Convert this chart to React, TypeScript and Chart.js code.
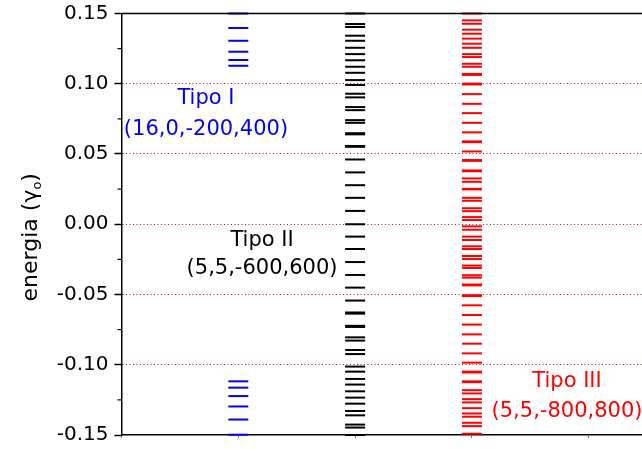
import React, { useEffect, useRef } from 'react';
import { Chart, registerables } from 'chart.js';

Chart.register(...registerables);

const FONT = "'DejaVu Sans', 'Liberation Sans', sans-serif";

// Axis ranges and ticks
const Y_MIN = -0.15;
const Y_MAX = 0.15;
const X_MIN = 0;
const X_MAX = 4.456;
const yMajorTicks = [-0.15, -0.1, -0.05, 0, 0.05, 0.1, 0.15];
const yMinorTicks = [-0.125, -0.075, -0.025, 0.025, 0.075, 0.125];
const yGridValues = [-0.1, -0.05, 0, 0.05, 0.1];
const xTicks = [0, 1, 2, 3, 4];

// Column positions of the three spectra
const columns = [1, 2, 3];
const seriesColors = ['#0000ff', '#000000', '#ff0000'];

// Energy levels (in units of gamma_0)
const tipoI = [
  0.15, 0.1397, 0.1306, 0.1228, 0.1169, 0.1128,
  -0.1118, -0.1163, -0.1223, -0.1297, -0.139, -0.1498,
];

const tipoII = [
  0.15, 0.1425, 0.1404, 0.1342, 0.1306, 0.1256, 0.1211, 0.1167, 0.1121, 0.1078,
  0.1026, 0.0991, 0.0929, 0.0903, 0.0834, 0.0812, 0.0741, 0.0722, 0.0648, 0.064,
  0.0557, 0.0551, 0.0461, 0.0369, 0.0278, 0.0188, 0.0095, 0.0,
  -0.0088, -0.0176, -0.0269, -0.0361, -0.0451, -0.0543, -0.0628, -0.0636, -0.0723,
  -0.0731, -0.0805, -0.0828, -0.0895, -0.0924, -0.1013, -0.1049, -0.1101, -0.1141,
  -0.1189, -0.1234, -0.1277, -0.1329, -0.136, -0.1426, -0.1447, -0.15,
];

const tipoIII = [
  0.15, 0.1451, 0.1427, 0.1385, 0.1356, 0.1321, 0.1285, 0.1256, 0.1211, 0.119,
  0.1142, 0.1121, 0.107, 0.1063, 0.1001, 0.0995, 0.0926, 0.0857, 0.0791, 0.0722,
  0.0654, 0.059, 0.0584, 0.0518, 0.0457, 0.0451, 0.0383, 0.0377, 0.0326, 0.0302,
  0.0252, 0.0248, 0.0188, 0.0167, 0.0114, 0.0093, 0.0051, 0.003,
  -0.0015, -0.0039, -0.0088, -0.0112, -0.0157, -0.0176, -0.0226, -0.0247, -0.0294,
  -0.0311, -0.0363, -0.038, -0.0429, -0.0435, -0.0505, -0.0511, -0.0577, -0.0646,
  -0.0714, -0.0784, -0.085, -0.0919, -0.0985, -0.1049, -0.1055, -0.1118, -0.1124,
  -0.1181, -0.1204, -0.1245, -0.1268, -0.1309, -0.1347, -0.137, -0.1413, -0.1437,
  -0.1491,
];

const seriesLevels = [tipoI, tipoII, tipoIII];
const seriesNames = ['Tipo I', 'Tipo II', 'Tipo III'];

// Text labels placed in data coordinates
const labelTexts = ['Tipo I', '(16,0,-200,400)', 'Tipo II', '(5,5,-600,600)', 'Tipo III', '(5,5,-800,800)'];
const labelX = [0.723, 0.723, 1.203, 1.203, 3.814, 3.814];
const labelY = [0.0898, 0.0677, -0.0114, -0.0313, -0.1118, -0.1332];
const labelColors = ['#0000ff', '#0000ff', '#000000', '#000000', '#ff0000', '#ff0000'];

const yTitleMain = 'energia (\u03B3';
const yTitleSub = 'o';
const yTitleEnd = ')';

const decorPlugin = {
  id: 'decor',
  afterDraw(chart: any) {
    const { ctx, chartArea, scales } = chart;
    const ys = scales.y;
    const xs = scales.x;
    ctx.save();
    // top frame line
    ctx.strokeStyle = '#000';
    ctx.lineWidth = 1.5;
    ctx.beginPath();
    ctx.moveTo(chartArea.left, chartArea.top);
    ctx.lineTo(chartArea.right, chartArea.top);
    ctx.stroke();
    // minor y ticks
    ctx.lineWidth = 1.2;
    yMinorTicks.forEach((v) => {
      const py = ys.getPixelForValue(v);
      ctx.beginPath();
      ctx.moveTo(chartArea.left, py);
      ctx.lineTo(chartArea.left - 4, py);
      ctx.stroke();
    });
    // text labels
    ctx.font = `21px ${FONT}`;
    ctx.textAlign = 'center';
    ctx.textBaseline = 'middle';
    labelTexts.forEach((t, i) => {
      ctx.fillStyle = labelColors[i];
      ctx.fillText(t, xs.getPixelForValue(labelX[i]), ys.getPixelForValue(labelY[i]));
    });
    // y axis title with subscript
    const cy = (chartArea.top + chartArea.bottom) / 2 + 13;
    ctx.translate(37, cy);
    ctx.rotate(-Math.PI / 2);
    ctx.textAlign = 'left';
    ctx.textBaseline = 'alphabetic';
    ctx.fillStyle = '#000';
    const mainFont = `22px ${FONT}`;
    const subFont = `13px ${FONT}`;
    ctx.font = mainFont;
    const w1 = ctx.measureText(yTitleMain).width;
    const w3 = ctx.measureText(yTitleEnd).width;
    ctx.font = subFont;
    const w2 = ctx.measureText(yTitleSub).width;
    const total = w1 + w2 + w3;
    let x0 = -total / 2;
    ctx.font = mainFont;
    ctx.fillText(yTitleMain, x0, 0);
    x0 += w1;
    ctx.font = subFont;
    ctx.fillText(yTitleSub, x0, 4);
    x0 += w2;
    ctx.font = mainFont;
    ctx.fillText(yTitleEnd, x0, 0);
    ctx.restore();
  },
};

export default function App() {
  const canvasRef = useRef<HTMLCanvasElement | null>(null);

  useEffect(() => {
    if (!canvasRef.current) return;
    const datasets = seriesLevels.map((levels, i) => ({
      label: seriesNames[i],
      data: levels.map((v) => ({ x: columns[i], y: v })),
      showLine: false,
      pointStyle: 'line',
      pointRadius: 10,
      pointHoverRadius: 10,
      pointBorderWidth: 2,
      pointHoverBorderWidth: 2,
      pointBorderColor: seriesColors[i],
      pointBackgroundColor: seriesColors[i],
      clip: false,
    }));
    const chart = new Chart(canvasRef.current, {
      type: 'scatter',
      data: { datasets: datasets as any },
      options: {
        animation: false,
        responsive: false,
        devicePixelRatio: 1,
        events: [],
        layout: { autoPadding: false, padding: { top: 13.5, left: 0, right: 0, bottom: 0 } },
        plugins: { legend: { display: false }, tooltip: { enabled: false } },
        scales: {
          x: {
            type: 'linear',
            min: X_MIN,
            max: X_MAX,
            afterBuildTicks: (s: any) => {
              s.ticks = xTicks.map((v) => ({ value: v }));
            },
            afterFit: (s: any) => {
              s.height = 14;
              s.paddingLeft = 0;
              s.paddingRight = 0;
            },
            ticks: { display: false },
            grid: {
              drawOnChartArea: false,
              drawTicks: true,
              tickLength: 3,
              tickColor: '#777',
              tickWidth: 1,
            },
            border: { color: '#000', width: 1.5 },
          },
          y: {
            type: 'linear',
            min: Y_MIN,
            max: Y_MAX,
            afterBuildTicks: (s: any) => {
              s.ticks = yMajorTicks.map((v) => ({ value: v }));
            },
            afterFit: (s: any) => {
              s.width = 121.5;
              s.paddingTop = 0;
              s.paddingBottom = 0;
            },
            ticks: {
              callback: (v: any) => Number(v).toFixed(2).replace('-0.00', '0.00'),
              font: { family: FONT, size: 20 },
              color: '#000',
              padding: 6,
            },
            grid: {
              color: (c: any) =>
                c.tick && yGridValues.some((g) => Math.abs(g - c.tick.value) < 1e-9)
                  ? 'rgb(175,20,20)'
                  : 'rgba(0,0,0,0)',
              lineWidth: 1,
              drawTicks: true,
              tickLength: 7,
              tickColor: '#000',
              tickWidth: 1.5,
              tickBorderDash: [],
            },
            border: { color: '#000', width: 1.5, dash: [1, 2.5] },
          },
        },
      },
      plugins: [decorPlugin],
    } as any);
    return () => chart.destroy();
  }, []);

  return (
    <div style={{ position: 'absolute', left: 0, top: 0, width: 642, height: 449 }}>
      <canvas ref={canvasRef} width={642} height={449} style={{ width: 642, height: 449, display: 'block' }} />
    </div>
  );
}
